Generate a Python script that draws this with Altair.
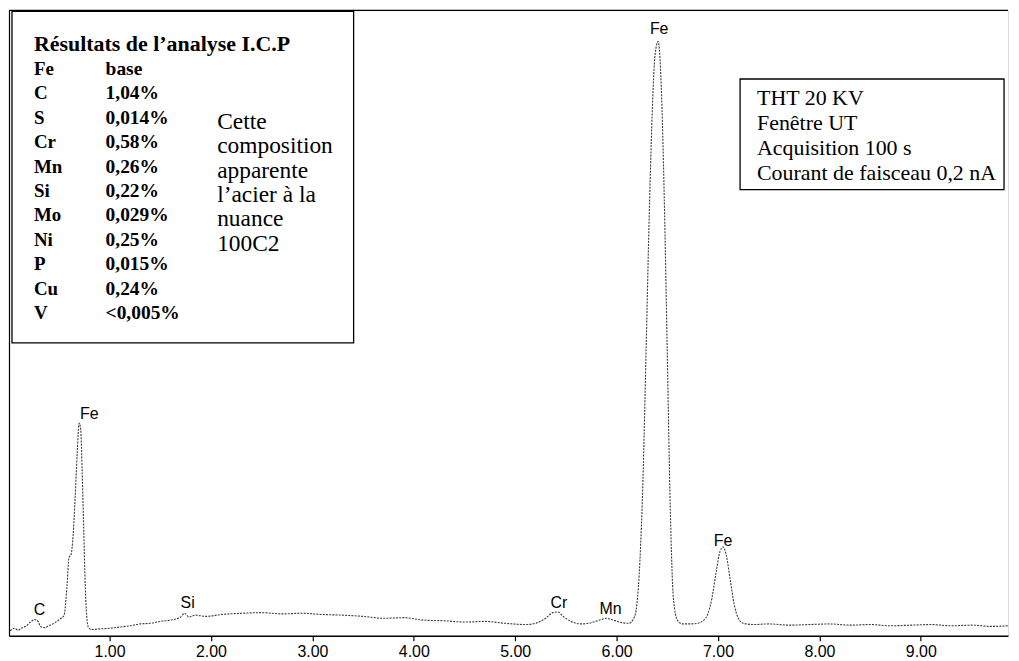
import altair as alt
import pandas as pd

# ---- spectrum (energy in keV, counts in arbitrary units) ----
energy_kev = [0.02, 0.06, 0.10, 0.14, 0.18, 0.22, 0.26, 0.29, 0.32, 0.36, 0.40, 0.44, 0.48,
              0.52, 0.55, 0.58, 0.60, 0.62, 0.64, 0.66, 0.68, 0.70, 0.715, 0.73, 0.745, 0.76,
              0.775, 0.79, 0.82, 0.90, 1.00, 1.10, 1.20, 1.30, 1.40, 1.50, 1.60, 1.70, 1.74,
              1.78, 1.85, 1.95, 2.10, 2.30, 2.50, 2.70, 2.90, 3.10, 3.30, 3.50, 3.70, 3.90,
              4.10, 4.30, 4.50, 4.70, 4.90, 5.10, 5.20, 5.30, 5.37, 5.42, 5.48, 5.55, 5.65,
              5.75, 5.85, 5.90, 5.95, 6.05, 6.12, 6.17, 6.20, 6.23, 6.26, 6.29, 6.32, 6.35,
              6.38, 6.41, 6.44, 6.47, 6.50, 6.53, 6.56, 6.60, 6.65, 6.72, 6.80, 6.86, 6.90,
              6.94, 6.98, 7.02, 7.05, 7.08, 7.12, 7.16, 7.20, 7.25, 7.35, 7.50, 7.70, 7.90,
              8.10, 8.30, 8.50, 8.70, 8.90, 9.10, 9.30, 9.50, 9.70, 9.86]
counts = [0.8, 1.2, 0.9, 1.3, 1.6, 2.2, 2.6, 2.4, 1.5, 1.3, 1.6, 1.9, 2.3,
          2.8, 3.2, 8.0, 12.5, 13.0, 16.0, 22.0, 29.0, 34.0, 33.0, 26.0, 17.0, 8.0,
          3.0, 1.4, 1.0, 1.1, 1.2, 1.4, 1.6, 1.9, 2.0, 2.3, 2.5, 3.0, 3.6,
          3.0, 3.3, 3.1, 3.4, 3.6, 3.7, 3.5, 3.6, 3.4, 3.3, 3.1, 2.8, 2.9,
          2.5, 2.4, 2.2, 2.3, 2.0, 1.8, 2.0, 2.8, 3.7, 3.8, 3.0, 2.3, 1.9,
          2.1, 2.6, 2.8, 2.6, 2.1, 2.0, 2.8, 5.0, 12.0, 25.0, 45.0, 66.0, 83.0,
          93.0, 95.0, 88.0, 70.0, 45.0, 20.0, 6.0, 2.5, 1.9, 1.9, 2.0, 2.5, 3.5,
          6.0, 10.0, 13.5, 14.2, 13.0, 9.0, 5.0, 2.8, 2.0, 1.8, 1.9, 1.7, 1.8,
          1.9, 1.7, 1.8, 1.6, 1.7, 1.8, 1.6, 1.7, 1.5, 1.6]

# ---- peak labels ----
peak_names = ["C", "Fe", "Si", "Cr", "Mn", "Fe", "Fe"]
peak_x = [0.31, 0.80, 1.77, 5.43, 5.94, 6.42, 7.05]
peak_y = [4.1, 35.5, 5.3, 5.3, 4.3, 97.0, 15.1]

# ---- axis ticks ----
tick_values = [1, 2, 3, 4, 5, 6, 7, 8, 9]

# ---- text boxes ----
icp_title = "Résultats de l’analyse I.C.P"
icp_elements = ["Fe", "C", "S", "Cr", "Mn", "Si", "Mo", "Ni", "P", "Cu", "V"]
icp_contents = ["base", "1,04%", "0,014%", "0,58%", "0,26%", "0,22%", "0,029%",
                "0,25%", "0,015%", "0,24%", "<0,005%"]
icp_note = ["Cette", "composition", "apparente", "l’acier à la", "nuance", "100C2"]
settings_lines = ["THT 20 KV", "Fenêtre UT", "Acquisition 100 s", "Courant de faisceau 0,2 nA"]

W, H = 1003, 628
x_scale = alt.Scale(domain=[0.008, 9.86], nice=False, zero=False)
y_scale = alt.Scale(domain=[0, 100], nice=False)

spec_df = pd.DataFrame({"E": energy_kev, "N": counts})
peaks_df = pd.DataFrame({"E": peak_x, "N": peak_y, "name": peak_names})
one = alt.Data(values=[{"k": 1}])

spectrum = alt.Chart(spec_df).mark_line(
    color="#3a3a3a", strokeWidth=1.1, strokeDash=[2, 1.2], interpolate="monotone"
).encode(
    x=alt.X("E:Q", scale=x_scale,
            axis=alt.Axis(values=tick_values, format=".2f", title=None, grid=False,
                          domainColor="black", domainWidth=1.6, tickColor="black",
                          tickSize=5, tickWidth=1.2, labelFont="Liberation Sans",
                          labelFontSize=16, labelColor="black", labelPadding=3)),
    y=alt.Y("N:Q", scale=y_scale,
            axis=alt.Axis(labels=False, ticks=False, grid=False, title=None,
                          domainColor="black", domainWidth=1.2)),
)

labels = alt.Chart(peaks_df).mark_text(
    font="Liberation Sans", fontSize=16, color="black", align="center", baseline="middle"
).encode(x=alt.X("E:Q", scale=x_scale), y=alt.Y("N:Q", scale=y_scale), text="name:N")

top_rule = alt.Chart(one).mark_rule(color="black", strokeWidth=1.2).encode(
    x=alt.value(0), x2=alt.value(W), y=alt.value(0))

left_box = alt.Chart(one).mark_rect(fill="white", stroke="black", strokeWidth=1.3).encode(
    x=alt.value(3), x2=alt.value(346), y=alt.value(1), y2=alt.value(334))
right_box = alt.Chart(one).mark_rect(fill="white", stroke="black", strokeWidth=1.3).encode(
    x=alt.value(734), x2=alt.value(999), y=alt.value(69), y2=alt.value(180))

serif = "Liberation Serif"
t_title = alt.Chart(one).mark_text(
    text=icp_title, font=serif, fontSize=22, fontWeight="bold", align="left",
    baseline="middle", color="black").encode(x=alt.value(25), y=alt.value(34))
t_elem = alt.Chart(one).mark_text(
    text=icp_elements, font=serif, fontSize=19, fontWeight="bold", align="left",
    baseline="top", lineHeight=24.5, color="black").encode(x=alt.value(25), y=alt.value(50))
t_cont = alt.Chart(one).mark_text(
    text=icp_contents, font=serif, fontSize=19.5, fontWeight="bold", align="left",
    baseline="top", lineHeight=24.5, color="black").encode(x=alt.value(97), y=alt.value(50))
t_note = alt.Chart(one).mark_text(
    text=icp_note, font=serif, fontSize=23.5, align="left",
    baseline="top", lineHeight=24.5, color="black").encode(x=alt.value(209), y=alt.value(100))
t_set = alt.Chart(one).mark_text(
    text=settings_lines, font=serif, fontSize=22, align="left",
    baseline="top", lineHeight=25, color="black").encode(x=alt.value(751), y=alt.value(78))

chart = alt.layer(
    spectrum, labels, top_rule, left_box, right_box, t_title, t_elem, t_cont, t_note, t_set
).properties(
    width=W, height=H, padding={"left": 0, "top": 0, "right": 0, "bottom": 0}
).configure_view(stroke=None).configure(background="white")

chart.save("out.html", embed_options={"renderer": "svg", "actions": False})
